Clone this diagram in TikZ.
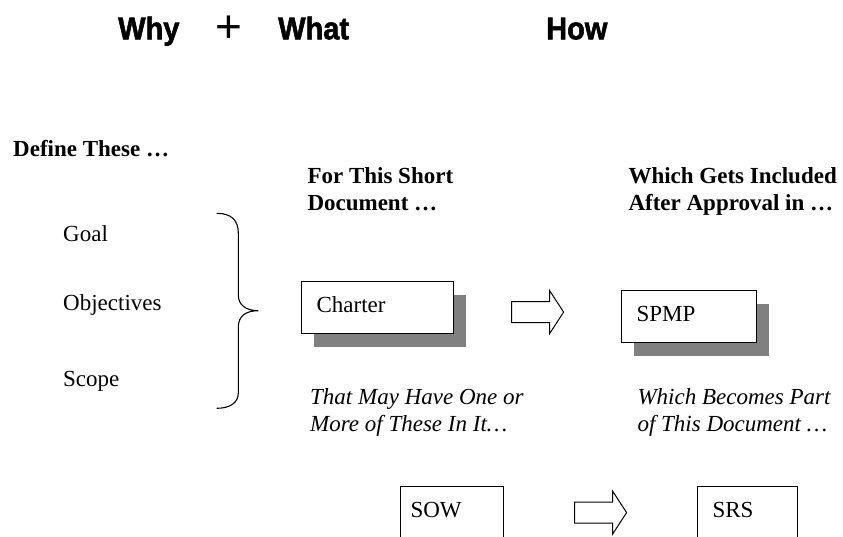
\documentclass[tikz,border=0pt]{standalone}
\usepackage{fontspec}
\setmainfont{Liberation Serif}
\newfontfamily\headfont{Liberation Sans}[BoldFeatures={FakeBold=1.8}]
\usetikzlibrary{calc,shadows}

\tikzset{
  head/.style={inner sep=0pt, anchor=base west, font=\headfont\bfseries\fontsize{29}{31}\selectfont},
  lbl/.style={inner sep=0pt, anchor=base west, align=left, font=\fontsize{23}{27}\selectfont},
  docbox/.style={draw, fill=white, line width=1.2pt, minimum height=52pt, inner xsep=15pt, inner ysep=0pt,
    text depth=6pt, anchor=north west, align=left, font=\fontsize{23}{27}\selectfont},
  shadowed/.style={drop shadow={shadow xshift=12pt, shadow yshift=-13pt, fill=black!50, opacity=1}},
  fatarrow/.pic={\draw[line width=1pt,fill=white] (-26,-10.5) -- (12,-10.5) -- (12,-21.5) -- (26,0)
    -- (12,21.5) -- (12,10.5) -- (-26,10.5) -- cycle;}
}

\begin{document}
\begin{tikzpicture}[x=1pt,y=-1pt]
\useasboundingbox (0,0) rectangle (843,536);
%\draw[step=50,gray,very thin] (0,0) grid (843,536); %background grid

\node[head] (why) at (118,39.3) {\scalebox{1}[1.08]{Why}};
\node[inner sep=0pt, anchor=base west, font=\headfont\fontsize{46}{48}\selectfont] (plus) at (215.4,42) {+};
\node[head] (what) at (278,39.3) {\scalebox{1}[1.08]{What}};
\node[head] (how) at (546,39.3) {\scalebox{1}[1.08]{How}};

\node[lbl, font=\fontsize{23}{27}\selectfont\bfseries] (define) at (13,156) {Define These …};
\node[lbl] (goal) at (63,241.7) {Goal};
\node[lbl] (obj) at (63,310) {Objectives};
\node[lbl] (scope) at (63,386.7) {Scope};

% brace
\draw[line width=1.1pt] (216.7,213.3) .. controls (231,213.3) and (238.3,220) .. (238.3,233)
  -- (238.3,295) .. controls (238.3,305) and (246,310.7) .. (258.3,310.7)
  .. controls (246,310.7) and (238.3,316) .. (238.3,327)
  -- (238.3,393) .. controls (238.3,402) and (231,408.3) .. (216.7,408.3);

% two-line labels sit on the baseline of their last line
\node[lbl, font=\fontsize{23}{27}\selectfont\bfseries] (short) at (307.3,210) {For This Short\\Document …};
\node[lbl, font=\fontsize{23}{27}\selectfont\bfseries] (included) at (628.3,210) {Which Gets Included\\After Approval in …};

\node[docbox, shadowed, text width=122pt] (charter) at (301,281) {Charter};
\node[docbox, shadowed, text width=105pt] (spmp) at (621,290) {SPMP};
\pic at ($(charter.east)!0.5!(spmp.west)$) {fatarrow};

\node[lbl, font=\fontsize{23}{27}\selectfont\itshape] (maybe) at (310,431.3) {That May Have One or\\More of These In It…};
\node[lbl, font=\fontsize{23}{27}\selectfont\itshape] (becomes) at (637.3,431.3) {Which Becomes Part\\of This Document …};

\node[docbox, inner xsep=10pt, text width=83pt] (sow) at (400,486) {SOW};
\node[docbox, text width=70pt] (srs) at (697,486) {SRS};
\pic at ($(sow.east)!0.5!(srs.west)$) {fatarrow};
\end{tikzpicture}
\end{document}
